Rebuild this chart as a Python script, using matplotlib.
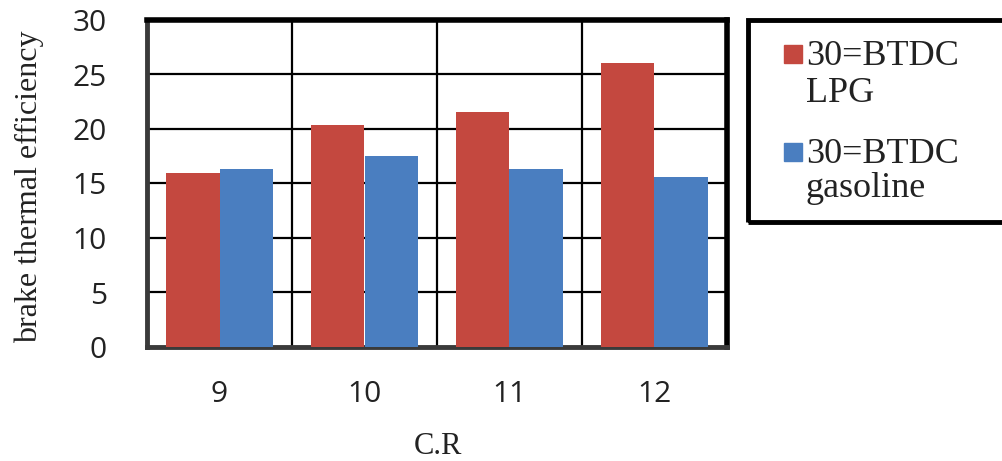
import matplotlib
matplotlib.use("Agg")
import matplotlib.pyplot as plt
from matplotlib.patches import Rectangle
import numpy as np

categories = ["9", "10", "11", "12"]
lpg = [16.0, 20.4, 21.6, 26.1]
gasoline = [16.3, 17.5, 16.3, 15.6]
series_labels = [("30=BTDC", "LPG"), ("30=BTDC", "gasoline")]
yticks = [0, 5, 10, 15, 20, 25, 30]

RED = "#C4483F"
BLUE = "#4A7EC0"
TEXT = "#222222"
SERIF = "Liberation Serif"
SANS = "Open Sans"

W, H = 1003, 461
fig = plt.figure(figsize=(W / 100, H / 100), dpi=100)
ax = fig.add_axes([147 / W, 1 - 347 / H, (727 - 147) / W, (347 - 20) / H])

x = np.arange(len(categories))
w = 0.37
b1 = ax.bar(x - w / 2, lpg, width=w, color=RED, zorder=3)
b2 = ax.bar(x + w / 2, gasoline, width=w, color=BLUE, zorder=3)

ax.set_xlim(-0.5, len(categories) - 0.5)
ax.set_ylim(0, 30)
ax.set_yticks(yticks)
ax.set_yticklabels([str(t) for t in yticks], fontfamily=SANS, fontsize=21.5, color=TEXT)
ax.set_xticks(x)
ax.set_xticklabels(categories, fontfamily=SANS, fontsize=21.5, color=TEXT)
ax.tick_params(axis="both", length=0)
ax.tick_params(axis="y", pad=29)
ax.tick_params(axis="x", pad=24)

# grid: horizontal at every tick, vertical at category boundaries
for t in yticks[1:-1]:
    ax.axhline(t, color="black", lw=1.6, zorder=1)
for b in np.arange(0.5, len(categories) - 0.5, 1.0):
    ax.axvline(b, color="black", lw=1.6, zorder=1)

for side in ["left", "bottom"]:
    ax.spines[side].set_linewidth(3.5)
    ax.spines[side].set_color("#3a3a3a")
for side in ["top", "right"]:
    ax.spines[side].set_linewidth(4)
    ax.spines[side].set_color("black")

ax.set_ylabel("brake thermal efficiency", fontfamily=SERIF, fontsize=23, color=TEXT)
ax.yaxis.set_label_coords(-0.177, 0.49)
fig.text(438 / W, 1 - 446 / H, "C.R", fontfamily=SERIF, fontsize=22, color=TEXT,
         ha="center", va="center")

# legend box
box = Rectangle((748 / W, 1 - 222 / H), 0.27, (222 - 20) / H,
                transform=fig.transFigure, fill=False, lw=3.5, edgecolor="black",
                clip_on=False)
fig.patches.append(box)
entries = [(b1, series_labels[0], 65, 102), (b2, series_labels[1], 163, 197)]
for bars, (line1, line2), base1, base2 in entries:
    color = bars.patches[0].get_facecolor()
    sq = Rectangle((784 / W, 1 - (base1 - 2) / H), 18 / W, 18 / H,
                   transform=fig.transFigure, color=color)
    fig.patches.append(sq)
    fig.text(806 / W, 1 - base1 / H, line1, fontfamily=SERIF, fontsize=26,
             color=TEXT, va="baseline", ha="left")
    fig.text(806 / W, 1 - base2 / H, line2, fontfamily=SERIF, fontsize=26,
             color=TEXT, va="baseline", ha="left")

fig.savefig("out.png", dpi=100)
